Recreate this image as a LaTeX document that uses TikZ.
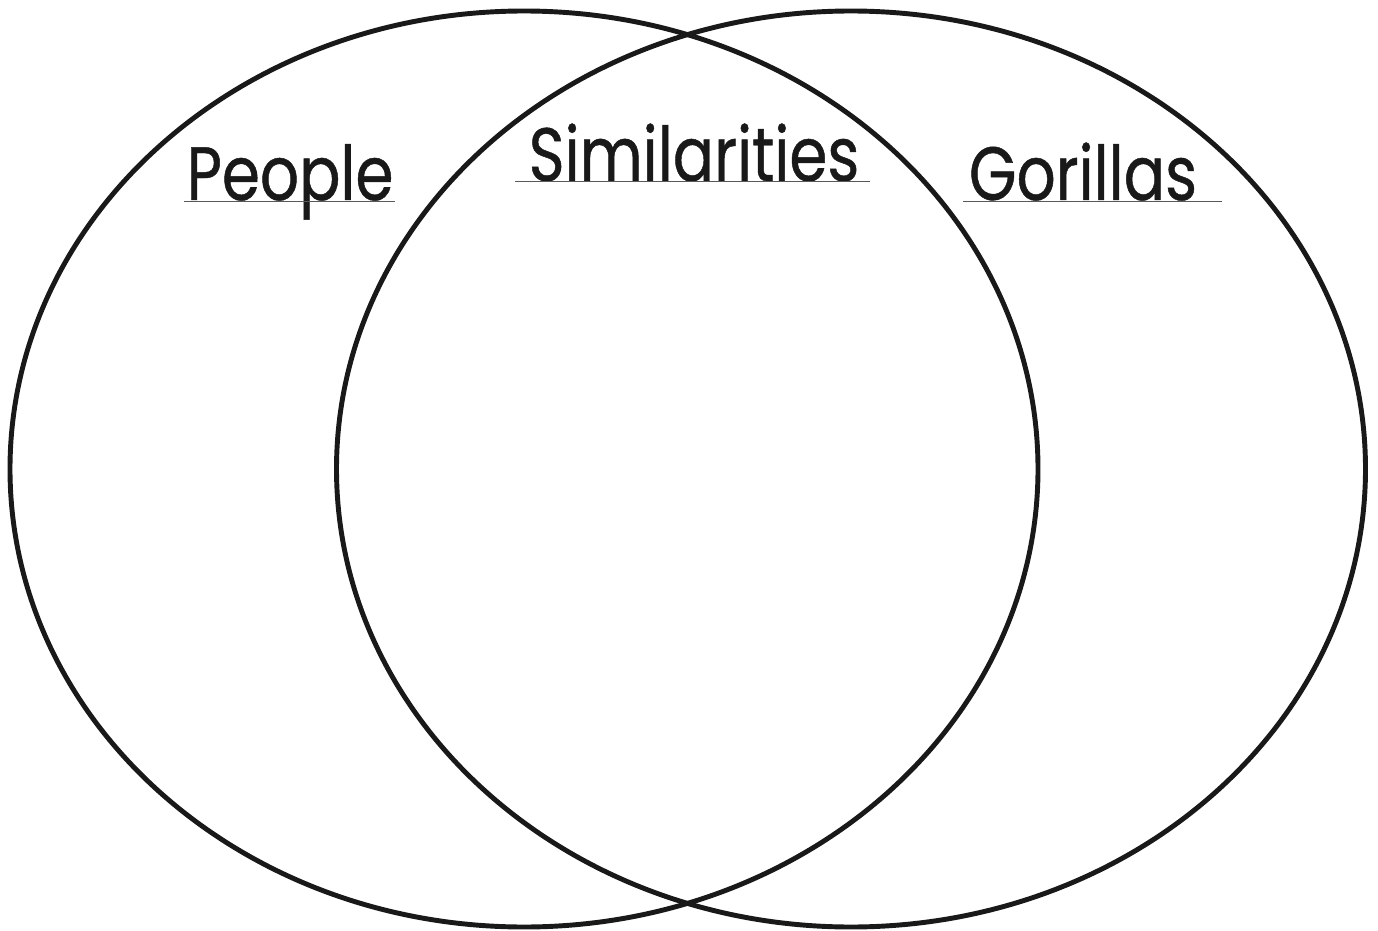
\documentclass[tikz,border=0pt]{standalone}
\usepackage{fontspec}
\setmainfont{Poppins}
\newfontfamily\headfont[FakeStretch=0.81, FakeBold=0.6]{Poppins}
\usepackage{tikz}
\usetikzlibrary{positioning}
\newcommand{\vennfont}{\headfont\fontsize{43pt}{50pt}\selectfont}

\begin{document}
\begin{tikzpicture}[
  set/.style={draw=black!90, line width=2.8pt},
  lbl/.style={font=\vennfont, text=black!90, anchor=base, inner sep=0pt},
  uline/.style={draw=black!65, line width=0.8pt}
]
  \useasboundingbox (0,0) rectangle (27.56,-18.62);

  % ── Two sets ──
  \draw[set] (10.48,-9.38) ellipse [x radius=10.28cm, y radius=9.16cm];
  \draw[set] (17.02,-9.38) ellipse [x radius=10.29cm, y radius=9.16cm];

  % ── Headings ──
  \node[lbl] (people) at (5.80,-4.00) {People};
  \node[lbl] (sim) at (13.88,-3.62) {Similarities};
  \node[lbl] (gor) at (21.66,-4.00) {Gorillas};

  \draw[uline] (3.68,-4.03) -- (7.90,-4.03);
  \draw[uline] (10.30,-3.63) -- (17.40,-3.63);
  \draw[uline] (19.26,-4.03) -- (24.44,-4.03);
\end{tikzpicture}
\end{document}
